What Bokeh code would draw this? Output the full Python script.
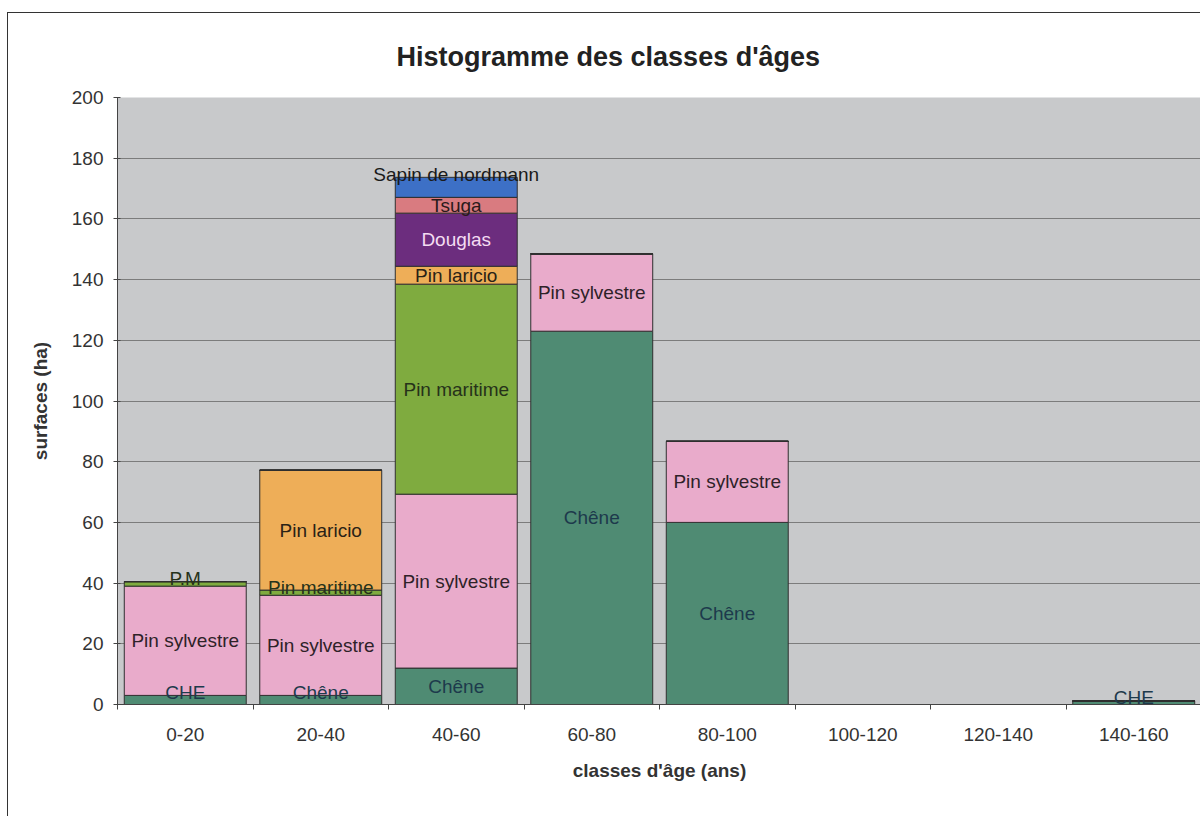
from bokeh.plotting import figure
from bokeh.models import ColumnDataSource, FixedTicker, Range1d
from bokeh.embed import file_html
from bokeh.resources import INLINE
from bokeh.core.properties import value

# ---------------- data ----------------
categories = ["0-20", "20-40", "40-60", "60-80", "80-100", "100-120", "120-140", "140-160"]
species = ["Chêne", "Pin sylvestre", "Pin maritime", "Pin laricio", "Douglas", "Tsuga", "Sapin de nordmann"]

chene         = [3.0, 3.0, 12.0, 123.0, 60.0, 0, 0, 1.2]
pin_sylvestre = [36.0, 33.0, 57.3, 25.5, 26.7, 0, 0, 0]
pin_maritime  = [1.5, 1.7, 69.2, 0, 0, 0, 0, 0]
pin_laricio   = [0, 39.5, 5.9, 0, 0, 0, 0, 0]
douglas       = [0, 0, 17.5, 0, 0, 0, 0, 0]
tsuga         = [0, 0, 5.2, 0, 0, 0, 0, 0]
sapin         = [0, 0, 6.6, 0, 0, 0, 0, 0]

labels_chene         = ["CHE", "Chêne", "Chêne", "Chêne", "Chêne", "", "", "CHE"]
labels_pin_sylvestre = ["Pin sylvestre", "Pin sylvestre", "Pin sylvestre", "Pin sylvestre", "Pin sylvestre", "", "", ""]
labels_pin_maritime  = ["P.M", "Pin maritime", "Pin maritime", "", "", "", "", ""]
labels_pin_laricio   = ["", "Pin laricio", "Pin laricio", "", "", "", "", ""]
labels_douglas       = ["", "", "Douglas", "", "", "", "", ""]
labels_tsuga         = ["", "", "Tsuga", "", "", "", "", ""]
labels_sapin         = ["", "", "Sapin de nordmann", "", "", "", "", ""]

y_ticks = [0, 20, 40, 60, 80, 100, 120, 140, 160, 180, 200]

# ---------------- styles ----------------
fill_colors = ["#4f8b73", "#e9abcb", "#7fab3f", "#eeae58", "#6c2d7e", "#d97b80", "#3d70c6"]
text_colors = ["#1d3a4c", "#2e2228", "#26321a", "#2a2216", "#f4dcf2", "#2a1a1a", "#1a1a1a"]
FONT = "Liberation Sans"
FS = "19px"
above_threshold = 4.0
outside_labels = ["Sapin de nordmann"]

values = [chene, pin_sylvestre, pin_maritime, pin_laricio, douglas, tsuga, sapin]
labels = [labels_chene, labels_pin_sylvestre, labels_pin_maritime, labels_pin_laricio,
          labels_douglas, labels_tsuga, labels_sapin]
keys = ["s%d" % i for i in range(len(species))]

xs = [i + 0.5 for i in range(len(categories))]
data = {"x": xs}
for k, v in zip(keys, values):
    data[k] = v
source = ColumnDataSource(data)

p = figure(width=1193, height=804, output_backend="svg", toolbar_location=None,
           x_range=Range1d(0, len(categories)), y_range=Range1d(0, 200),
           min_border_left=109, min_border_right=0, min_border_top=84, min_border_bottom=113)
p.styles = {"border-left": "1px solid #333333", "border-top": "1px solid #333333",
            "margin-left": "7px", "margin-top": "12px"}

p.title.text = "Histogramme des classes d'âges"
p.title.text_font = FONT
p.title.text_font_size = "27px"
p.title.text_font_style = "bold"
p.title.text_color = "#222222"
p.title.align = "left"
p.title.offset = 279
p.title.standoff = 51

p.background_fill_color = "#c8c9cb"
p.border_fill_color = "white"
p.outline_line_color = None

p.vbar_stack(keys, x="x", width=0.9, source=source, color=None,
             fill_color=fill_colors, line_color="#2f2f2f", line_width=1)

# segment labels
in_x, in_y, in_t, in_c = [], [], [], []
ab_x, ab_y, ab_t, ab_c = [], [], [], []
for ci in range(len(categories)):
    base = 0.0
    for si in range(len(species)):
        v = values[si][ci]
        t = labels[si][ci]
        if t:
            if v < above_threshold or t in outside_labels:
                ab_x.append(xs[ci]); ab_y.append(base + v); ab_t.append(t); ab_c.append(text_colors[si])
            else:
                in_x.append(xs[ci]); in_y.append(base + v / 2.0); in_t.append(t); in_c.append(text_colors[si])
        base += v

p.text(x=in_x, y=in_y, text=in_t, text_color=in_c, text_align="center", text_baseline="middle",
       text_font=value(FONT), text_font_size=FS)
p.text(x=ab_x, y=ab_y, text=ab_t, text_color=ab_c, text_align="center", text_baseline="alphabetic",
       text_font=value(FONT), text_font_size=FS, y_offset=-3)

# axes
p.xgrid.grid_line_color = None
p.ygrid.grid_line_color = "#7c7c7c"
p.ygrid.grid_line_width = 1
p.ygrid.ticker = FixedTicker(ticks=y_ticks)

p.xaxis.ticker = FixedTicker(ticks=xs, minor_ticks=list(range(len(categories) + 1)))
p.xaxis.major_label_overrides = {x: c for x, c in zip(xs, categories)}
p.xaxis.major_tick_out = 0
p.xaxis.major_tick_in = 0
p.xaxis.minor_tick_line_color = "#444444"
p.xaxis.minor_tick_out = 5
p.xaxis.minor_tick_in = 0
p.xaxis.major_label_standoff = 18
p.xaxis.axis_label = "classes d'âge (ans)"
p.xaxis.axis_label_standoff = 16

p.yaxis.ticker = FixedTicker(ticks=y_ticks)
p.yaxis.major_tick_out = 4
p.yaxis.major_tick_in = 3
p.yaxis.minor_tick_line_color = None
p.yaxis.major_label_standoff = 10
p.yaxis.axis_label = "surfaces (ha)"
p.yaxis.axis_label_standoff = 18

for ax in (p.xaxis[0], p.yaxis[0]):
    ax.axis_line_color = "#444444"
    ax.major_label_text_font = FONT
    ax.major_label_text_font_size = FS
    ax.major_label_text_color = "#333333"
    ax.axis_label_text_font = FONT
    ax.axis_label_text_font_size = FS
    ax.axis_label_text_font_style = "bold"
    ax.axis_label_text_color = "#333333"
p.xaxis.major_tick_line_color = None
p.yaxis.major_tick_line_color = "#444444"

open("out.html", "w").write(file_html(p, INLINE))
